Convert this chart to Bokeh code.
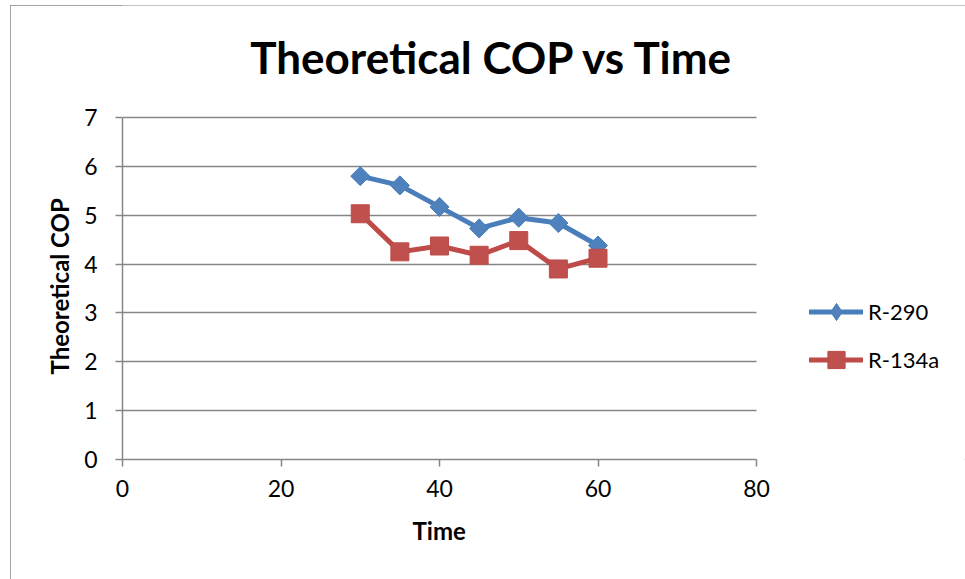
from bokeh.plotting import figure
from bokeh.models import (Range1d, FixedTicker, Legend, LegendItem, Title, Label,
                          BoxAnnotation, Grid)
from bokeh.embed import file_html
from bokeh.resources import INLINE
import math

# ---- data ----
time = [30, 35, 40, 45, 50, 55, 60]
r290 = [5.80, 5.61, 5.17, 4.73, 4.95, 4.84, 4.38]
r134a = [5.03, 4.25, 4.37, 4.18, 4.48, 3.90, 4.12]
x_ticks = [0, 20, 40, 60, 80]
y_ticks = [0, 1, 2, 3, 4, 5, 6, 7]
series_names = ["R-290", "R-134a"]
title_text = "Theoretical COP vs Time"
x_label = "Time"
y_label = "Theoretical COP"

FONT = "Lato"
GRID = "#868686"
BLUE_LINE = "#4A7EBB"
BLUE_FILL = "#4F81BD"
RED_LINE = "#BE4B48"
RED_FILL = "#C0504D"

# ---- layout (pixels) ----
FIG_W, FIG_H = 955, 574          # figure placed at page offset (10, 5)
LEFT, BOTTOM = 112, 120          # frame left / bottom borders
FRAME_W = FIG_W - LEFT           # frame reaches right edge
FRAME_H = FIG_H - BOTTOM         # frame reaches top edge
PLOT_W, PLOT_H = 634, 342        # visible plot area (0..80, 0..7)

x_min, x_max = x_ticks[0], x_ticks[-1]
y_min, y_max = y_ticks[0], y_ticks[-1]
x_end = x_min + (x_max - x_min) * FRAME_W / PLOT_W
y_end = y_min + (y_max - y_min) * FRAME_H / PLOT_H

p = figure(width=FIG_W, height=FIG_H, output_backend="svg", toolbar_location=None,
           x_range=Range1d(x_min, x_end), y_range=Range1d(y_min, y_end),
           min_border_left=LEFT, min_border_right=0,
           min_border_top=0, min_border_bottom=BOTTOM)
p.styles = {"margin-left": "10px", "margin-top": "5px",
            "outline": "1.5px solid #898989", "outline-offset": "-1.5px"}
p.outline_line_color = None
p.background_fill_color = "white"
p.border_fill_color = "white"

# axes
for ax in (p.xaxis[0], p.yaxis[0]):
    ax.axis_line_color = GRID
    ax.axis_line_width = 1.5
    ax.major_tick_line_color = GRID
    ax.major_tick_line_width = 1.5
    ax.major_tick_in = 0
    ax.major_tick_out = 7
    ax.minor_tick_line_color = None
    ax.major_label_text_font = FONT
    ax.major_label_text_font_size = "23px"
    ax.major_label_text_color = "black"

p.xaxis.ticker = FixedTicker(ticks=x_ticks)
p.yaxis.ticker = FixedTicker(ticks=y_ticks)
p.xaxis.bounds = (x_min, x_max)
p.yaxis.bounds = (y_min, y_max)
p.xaxis.major_label_standoff = 13
p.yaxis.major_label_standoff = 18

p.xgrid.grid_line_color = None
yg = p.ygrid[0]
yg.grid_line_color = GRID
yg.grid_line_width = 1.5
yg.ticker = FixedTicker(ticks=y_ticks)
if "cross_bounds" in Grid.properties():
    yg.cross_bounds = (x_min, x_max)
else:
    p.add_layout(BoxAnnotation(left=x_max, fill_color="white", fill_alpha=1,
                               line_color=None))

# axis titles (bold), placed as side titles
p.add_layout(Title(text=x_label, align="left", offset=290, vertical_align="top",
                   standoff=33, text_font=FONT, text_font_style="bold",
                   text_font_size="24px", text_color="black"), "below")
p.add_layout(Title(text=y_label, align="left", offset=85, vertical_align="bottom",
                   standoff=15, text_font=FONT, text_font_style="bold",
                   text_font_size="24px", text_color="black"), "left")

# series
l1 = p.line(time, r290, line_color=BLUE_LINE, line_width=5, line_join="round", line_cap="round")
# diamond symbol used for the legend; hidden under the plotted markers
d1 = p.scatter(time, r290, marker="diamond", size=17,
               fill_color=BLUE_FILL, line_color=BLUE_LINE, line_width=1)
s1 = p.scatter(time, r290, marker="square", size=13.5, angle=math.pi / 4,
               fill_color=BLUE_FILL, line_color=BLUE_LINE, line_width=1)
l2 = p.line(time, r134a, line_color=RED_LINE, line_width=5, line_join="round", line_cap="round")
s2 = p.scatter(time, r134a, marker="square", size=18,
               fill_color=RED_FILL, line_color=RED_LINE, line_width=1)

legend = Legend(items=[LegendItem(label=series_names[0], renderers=[l1, d1]),
                       LegendItem(label=series_names[1], renderers=[l2, s2])],
                location=(687, 78), orientation="vertical",
                glyph_width=54, glyph_height=43, label_height=26, label_standoff=5,
                spacing=5, padding=0, margin=0,
                border_line_color=None, background_fill_alpha=0,
                label_text_font=FONT, label_text_font_size="22px", label_text_color="black")
p.add_layout(legend, "center")

# chart title (inside the frame area, screen units relative to frame)
p.add_layout(Label(x=370, y=403, x_units="screen", y_units="screen", text=title_text,
                   text_align="center", text_baseline="alphabetic",
                   text_font=FONT, text_font_style="bold", text_font_size="44px",
                   text_color="black"))

open("out.html", "w").write(file_html(p, INLINE))
